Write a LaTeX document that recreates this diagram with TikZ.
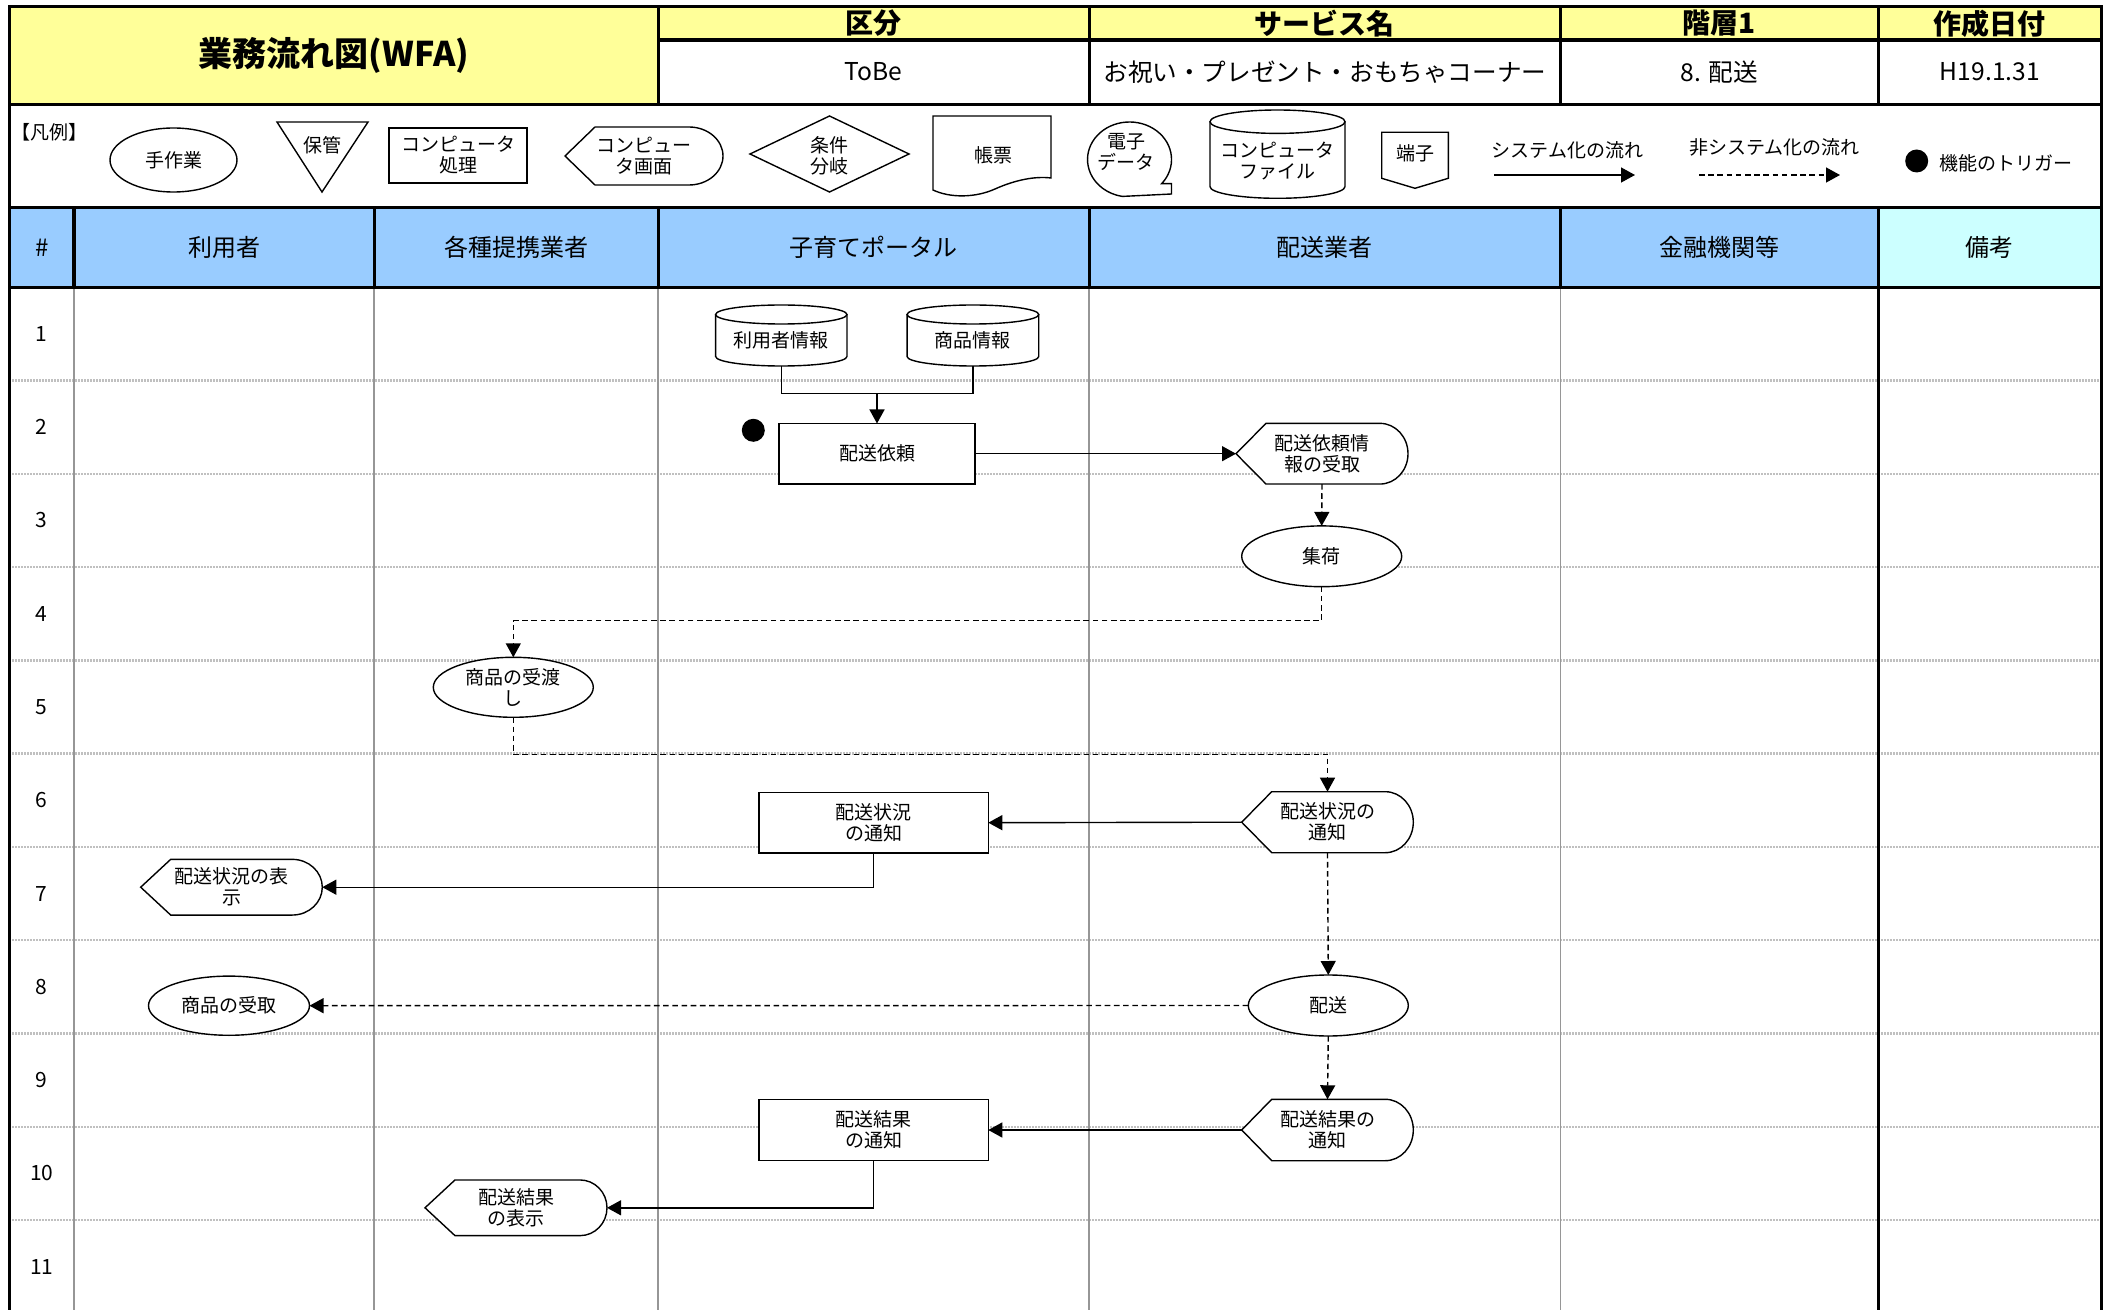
\documentclass[tikz,border=0pt]{standalone}
\usepackage{fontspec}
\setmainfont{Noto Sans CJK JP}
\usetikzlibrary{shapes.geometric,arrows.meta,calc}
\definecolor{hdryellow}{HTML}{FFFF99}
\definecolor{laneblue}{HTML}{99CCFF}
\definecolor{notecyan}{HTML}{CCFFFF}
\definecolor{colgray}{HTML}{969696}
\definecolor{rowgray}{HTML}{C0C0C0}
\tikzset{
  shapeline/.style={draw=black, line width=0.7pt, fill=white},
  boxtext/.style={inner sep=0pt, outer sep=0pt, align=center, font=\fontsize{9.5}{10.5}\selectfont},
  procbox/.style={boxtext, draw=black, line width=0.7pt, fill=white, rectangle},
  manual/.style={boxtext, draw=black, line width=0.7pt, fill=white, ellipse},
  sysflow/.style={line width=0.7pt, -{Triangle[length=7pt,width=7.5pt]}},
  nonsysflow/.style={sysflow, dash pattern=on 2.8pt off 1.8pt},
  plainflow/.style={line width=0.7pt},
  thickrule/.style={line width=1.6pt, black},
  colrule/.style={line width=0.9pt, colgray},
  rowrule/.style={line width=1.2pt, rowgray, dash pattern=on 1pt off 0.5pt},
  legtext/.style={inner sep=0pt, align=center, font=\fontsize{9.5}{10.5}\selectfont},
  lanehead/.style={inner sep=0pt, font=\fontsize{12}{14}\selectfont},
  hdrlabel/.style={inner sep=0pt, font=\fontsize{14}{16}\selectfont\bfseries},
  hdrvalue/.style={inner sep=0pt, font=\fontsize{12.3}{14}\selectfont},
  titletext/.style={inner sep=0pt, font=\fontsize{17}{20}\selectfont\bfseries},
  rownum/.style={inner sep=0pt, font=\fontsize{10.5}{12}\selectfont},
  trigdot/.style={circle, fill=black, inner sep=0pt, minimum size=11.5pt},
}
% display shape: name, cx, cy, w, h, arc width, text
\newcommand{\dispshape}[7]{%
  \draw[shapeline] ({#2-#4/2},{#3}) -- ({#2-#4/2+30},{#3-#5/2}) -- ({#2+#4/2-#6},{#3-#5/2})
    .. controls ({#2+#4/2-0.448*#6},{#3-#5/2}) and ({#2+#4/2},{#3-0.276*#5}) .. ({#2+#4/2},{#3})
    .. controls ({#2+#4/2},{#3+0.276*#5}) and ({#2+#4/2-0.448*#6},{#3+#5/2}) .. ({#2+#4/2-#6},{#3+#5/2})
    -- ({#2-#4/2+30},{#3+#5/2}) -- cycle;
  \node[boxtext, minimum width={#4*0.5pt}, minimum height={#5*0.5pt}] (#1) at (#2,#3) {#7};
}
% cylinder: name, cx, top, w, bottom, ry, text
\newcommand{\cylshape}[7]{%
  \draw[shapeline] ({#2-#4/2},{#3+#6}) -- ({#2-#4/2},{#5-#6})
    .. controls ({#2-#4/2},{#5-0.448*#6}) and ({#2-0.276*#4},{#5}) .. ({#2},{#5})
    .. controls ({#2+0.276*#4},{#5}) and ({#2+#4/2},{#5-0.448*#6}) .. ({#2+#4/2},{#5-#6})
    -- ({#2+#4/2},{#3+#6});
  \draw[shapeline] ({#2},{#3+#6}) ellipse [x radius={#4/2}, y radius={#6}];
  \node[boxtext, minimum width={#4*0.5pt}, minimum height={(#5-#3)*0.5pt}] (#1) at (#2,{(#3+#5)/2}) {};
  \node[boxtext] (#1-t) at (#2,{(#3+#5)/2+5}) {#7};
}
\begin{document}
\begin{tikzpicture}[x=0.5pt,y=-0.5pt]
\useasboundingbox (0,0) rectangle (2111,1310);
% ---------- backgrounds ----------
\fill[hdryellow] (9.3,6.7) rectangle (2101.3,40);
\fill[hdryellow] (9.3,6.7) rectangle (658.3,104.3);
\fill[laneblue] (9.3,207.3) rectangle (1878.4,287.3);
\fill[notecyan] (1878.4,207.3) rectangle (2101.3,287.3);
% ---------- grid ----------
\foreach \i in {1,...,10} {
  \draw[rowrule] (9.3,{287.3+93.27*\i}) -- (2101.3,{287.3+93.27*\i});
}
\foreach \x in {74,374.3,658.3,1089.2,1560.5} \draw[colrule] (\x,287.3) -- (\x,1310);
\draw[thickrule] (1878.4,287.3) -- (1878.4,1310);
\foreach \x in {74,374.3,658.3,1089.2,1560.5,1878.4} \draw[thickrule] (\x,207.3) -- (\x,287.3);
\foreach \x in {658.3,1089.2,1560.5,1878.4} \draw[thickrule] (\x,6.7) -- (\x,104.3);
\draw[thickrule] (658.3,40) -- (2101.3,40);
\foreach \y in {104.3,207.3,287.3} \draw[thickrule] (9.3,\y) -- (2101.3,\y);
\draw[thickrule] (9.3,1310) -- (9.3,6.7) -- (2101.3,6.7) -- (2101.3,1310);
% ---------- header ----------
\node[titletext] (title) at (334,55) {業務流れ図(WFA)};
\node[hdrlabel] (hkubun) at (873.7,23.5) {区分};
\node[hdrlabel] (hservice) at (1324.8,23.5) {サービス名};
\node[hdrlabel] (hlevel) at (1719.5,23.5) {階層1};
\node[hdrlabel] (hdate) at (1989.9,23.5) {作成日付};
\node[hdrvalue] (vkubun) at (873.7,72) {ToBe};
\node[hdrvalue] (vservice) at (1324.8,72) {お祝い・プレゼント・おもちゃコーナー};
\node[hdrvalue] (vlevel) at (1719.5,72) {8. 配送};
\node[hdrvalue] (vdate) at (1989.9,72) {H19.1.31};
% ---------- legend ----------
\node[legtext, anchor=west] (lgtitle) at (11,132) {【凡例】};
\node[manual, minimum width=63.5pt, minimum height=32pt] (lgmanual) at (173.5,160) {手作業};
\draw[shapeline] (277,122) -- (368,122) -- (322,192) -- cycle;
\node[legtext] (lgstore) at (322,145) {保管};
\node[procbox, minimum width=69pt, minimum height=27.5pt] (lgproc) at (458,155.5) {コンピュータ\\処理};
\dispshape{lgdisp}{644}{156}{158}{58}{34}{コンピュー\\タ画面}
\draw[shapeline] (750,154) -- (829.5,116) -- (909,154) -- (829.5,192) -- cycle;
\node[legtext] (lgdecision) at (829.5,156) {条件\\分岐};
\draw[shapeline] (933,116) -- (1051,116) -- (1051,178)
  .. controls (1035,176) and (1015,180) .. (995,189)
  .. controls (975,198) and (950,198) .. (933,190) -- cycle;
\node[legtext] (lgdoc) at (993,155) {帳票};
\draw[shapeline] (1161.7,183.6) arc[start angle=40, end angle=-260, x radius=42, y radius=37.5]
  -- (1171.5,194) -- (1171.5,183.6) -- cycle;
\node[legtext] (lgtape) at (1126,152) {電子\\データ};
\cylshape{lgcyl}{1277.5}{110}{135}{198.3}{11.7}{}
\node[legtext] (lgcyltext) at (1277.5,161) {コンピュータ\\ファイル};
\draw[shapeline] (1381.7,132.3) -- (1448.3,132.3) -- (1448.3,178.3) -- (1415,188.3) -- (1381.7,178.3) -- cycle;
\node[legtext] (lgterm) at (1415,153) {端子};
\node[legtext] (lgsystext) at (1567.5,150) {システム化の流れ};
\coordinate (lgsysA) at (1494,175);
\coordinate (lgsysB) at (1635,175);
\draw[sysflow] (lgsysA) -- (lgsysB);
\node[legtext] (lgnonsystext) at (1774.5,147) {非システム化の流れ};
\coordinate (lgnonA) at (1699,175);
\coordinate (lgnonB) at (1840,175);
\draw[nonsysflow] (lgnonA) -- (lgnonB);
\node[trigdot] (lgtrig) at (1916.7,161) {};
\node[legtext, anchor=west] (lgtrigtext) at (1939,163) {機能のトリガー};
% ---------- lane headers ----------
\node[lanehead] (lhnum) at (41.7,247.3) {\#};
\node[lanehead] (lhuser) at (224.2,247.3) {利用者};
\node[lanehead] (lhpartner) at (516.3,247.3) {各種提携業者};
\node[lanehead] (lhportal) at (873.7,247.3) {子育てポータル};
\node[lanehead] (lhcarrier) at (1324.8,247.3) {配送業者};
\node[lanehead] (lhbank) at (1719.5,247.3) {金融機関等};
\node[lanehead] (lhnote) at (1989.9,247.3) {備考};
% ---------- row numbers ----------
\foreach \i in {1,...,11} {
  \node[rownum] (rn\i) at (41.7,{287.3+93.27*(\i-0.5)}) {\i};
}
% ---------- flow nodes ----------
\cylshape{dbuser}{781.3}{305}{131.3}{366}{9.5}{利用者情報}
\cylshape{dbitem}{972.9}{305}{131.7}{366}{9.5}{商品情報}
\node[trigdot] (trig) at (753.3,430.3) {};
\node[procbox, minimum width=98pt, minimum height=30.2pt] (req) at (877,453.7) {配送依頼};
\dispshape{dA}{1322}{453.7}{172}{60.7}{28}{配送依頼情\\報の受取}
\node[manual, minimum width=80pt, minimum height=30.4pt] (shuka) at (1321.7,556.3) {集荷};
\node[manual, minimum width=80pt, minimum height=30pt] (juwatashi) at (513.3,687.3) {商品の受渡\\し};
\dispshape{dB}{1327.5}{822.2}{171.6}{61}{28}{配送状況の\\通知}
\node[procbox, minimum width=114.6pt, minimum height=30.35pt] (rectB) at (873.7,822.7) {配送状況\\の通知};
\dispshape{dD}{231.5}{887.2}{181.6}{55.7}{30}{配送状況の表\\示}
\node[manual, minimum width=80pt, minimum height=30.5pt] (haiso) at (1328.3,1005.5) {配送};
\node[manual, minimum width=80.5pt, minimum height=29.6pt] (uketori) at (229,1005.7) {商品の受取};
\dispshape{dC}{1327.5}{1130}{171.6}{61.4}{28}{配送結果の\\通知}
\node[procbox, minimum width=114.6pt, minimum height=30.35pt] (rectC) at (873.7,1130) {配送結果\\の通知};
\dispshape{dE}{516}{1207.8}{182}{55.7}{27}{配送結果\\の表示}
% ---------- connectors ----------
\coordinate (join) at (877,393.7);
\draw[plainflow] (dbuser.south) |- (join);
\draw[plainflow] (dbitem.south) |- (join);
\draw[sysflow] (join) -- (req.north);
\draw[sysflow] (req.east) -- (dA.west);
\draw[nonsysflow] (dA.south) -- (shuka.north);
\coordinate (c1) at (513.3,620.7);
\draw[nonsysflow] (shuka.south) |- (c1) -- (juwatashi.north);
\coordinate (c2) at (1327.5,754.3);
\draw[nonsysflow] (juwatashi.south) |- (c2) -- (dB.north);
\draw[sysflow] (dB.west) -- (rectB.east);
\draw[sysflow] (rectB.south) |- (dD.east);
\draw[nonsysflow] (dB.south) -- (haiso.north);
\draw[nonsysflow] (haiso.west) -- (uketori.east);
\draw[nonsysflow] (haiso.south) -- (dC.north);
\draw[sysflow] (dC.west) -- (rectC.east);
\draw[sysflow] (rectC.south) |- (dE.east);
\end{tikzpicture}
\end{document}
